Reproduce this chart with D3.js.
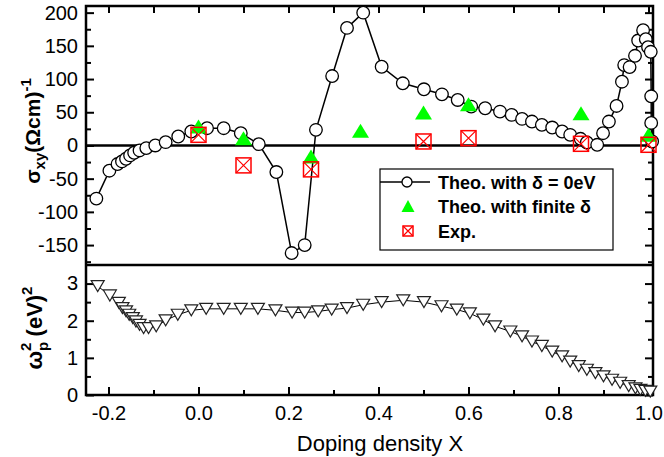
<!DOCTYPE html>
<html>
<head>
<meta charset="utf-8">
<script src="https://cdn.jsdelivr.net/npm/d3@7"></script>
<style>
  body { margin: 0; background: #fff; }
  text { font-family: "Liberation Sans", Arial, sans-serif; fill: #000; }
</style>
</head>
<body>
<svg id="chart" width="664" height="457"></svg>
<script>
// Theo. with delta = 0eV (open circles, top panel)
var sigmaX = [-0.227, -0.198, -0.18, -0.17, -0.161, -0.152, -0.143, -0.131, -0.116, -0.096,
  -0.073, -0.045, -0.016, 0.019, 0.056, 0.094, 0.134, 0.173, 0.207, 0.236,
  0.261, 0.297, 0.33, 0.366, 0.407, 0.454, 0.501, 0.541, 0.576, 0.606,
  0.637, 0.670, 0.696, 0.719, 0.741, 0.763, 0.786, 0.808, 0.826, 0.849,
  0.863, 0.886, 0.899, 0.912, 0.929, 0.941, 0.946, 0.958, 0.970, 0.977,
  0.988, 0.994, 0.999, 1.005, 1.006, 1.006, 1.008];
var sigmaY = [-80, -38, -28, -24, -20, -15, -11, -7.5, -4, 0,
  5, 13.5, 21, 26, 26, 18.5, 2, -40, -162, -150,
  23.5, 104.5, 177, 200, 118.5, 93.6, 84.6, 77, 68.5, 58.5,
  56, 51, 46, 40, 36, 31, 27, 21, 16, 10,
  4.5, 1, 18.5, 36, 59.5, 96, 121, 118, 135, 158,
  173.5, 160, 148, 141, 74, 34, 6];

// Theo. with finite delta (green triangles)
var finiteX = [0, 0.1, 0.25, 0.36, 0.5, 0.6, 0.85, 1.0];
var finiteY = [28.5, 11, -16.5, 22, 49.5, 62, 48.6, 16];

// Exp. (red crossed squares)
var expX = [0, 0.1, 0.25, 0.5, 0.6, 0.85, 1.0];
var expY = [16, -30, -36, 6, 11, 2.5, 1];

// omega_p^2 (open down triangles, bottom panel)
var omegaX = [-0.224, -0.197, -0.177, -0.169, -0.161, -0.154, -0.146, -0.139, -0.131, -0.122,
  -0.111, -0.094, -0.073, -0.046, -0.016, 0.017, 0.056, 0.094, 0.132, 0.171,
  0.208, 0.236, 0.266, 0.296, 0.330, 0.366, 0.407, 0.455, 0.501, 0.540,
  0.574, 0.603, 0.633, 0.659, 0.693, 0.719, 0.741, 0.763, 0.786, 0.808,
  0.826, 0.845, 0.863, 0.882, 0.900, 0.919, 0.937, 0.956, 0.971, 0.982,
  0.993, 1.004];
var omegaY = [2.93, 2.68, 2.48, 2.34, 2.25, 2.16, 2.07, 1.98, 1.89, 1.80,
  1.80, 1.85, 2.01, 2.16, 2.28, 2.32, 2.32, 2.32, 2.32, 2.28,
  2.22, 2.22, 2.25, 2.30, 2.34, 2.43, 2.50, 2.55, 2.50, 2.39,
  2.30, 2.20, 2.03, 1.85, 1.71, 1.58, 1.44, 1.32, 1.17, 1.04,
  0.90, 0.78, 0.68, 0.59, 0.50, 0.41, 0.33, 0.24, 0.18, 0.14,
  0.11, 0.09];

var xTicks = [-0.2, 0.0, 0.2, 0.4, 0.6, 0.8, 1.0];
var xMinor = [-0.1, 0.1, 0.3, 0.5, 0.7, 0.9];
var sigmaTicks = [-150, -100, -50, 0, 50, 100, 150, 200];
var sigmaMinor = [-175, -125, -75, -25, 25, 75, 125, 175];
var omegaTicks = [0, 1, 2, 3];
var omegaMinor = [0.5, 1.5, 2.5];
var legendLabels = ["Theo. with \u03b4 = 0eV", "Theo. with finite \u03b4", "Exp."];

var svg = d3.select("#chart");
var pLeft = 86, pRight = 653, pTop = 6, pMid = 265, pBot = 395;

var x = d3.scaleLinear().domain([-0.25, 1.01]).range([pLeft, pRight]);
var yTop = d3.scaleLinear().domain([-180, 210]).range([pMid, pTop]);
var yBot = d3.scaleLinear().domain([0, 3.5]).range([pBot, pMid]);

function styleAxis(g, size) {
  g.select(".domain").remove();
  g.selectAll("line").attr("stroke", "#000").attr("stroke-width", 2);
  g.selectAll("text").attr("font-size", size || 20).attr("fill", "#000");
}

function addAxis(axis, tx, ty) {
  var g = svg.append("g").attr("transform", "translate(" + tx + "," + ty + ")").call(axis);
  styleAxis(g);
  return g;
}

// bottom x axis
addAxis(d3.axisBottom(x).tickValues(xTicks).tickSize(-8).tickPadding(11)
  .tickFormat(d => d.toFixed(1)), 0, pBot);
addAxis(d3.axisBottom(x).tickValues(xMinor).tickSize(-5).tickFormat(""), 0, pBot);
// top x axis (mirror)
addAxis(d3.axisTop(x).tickValues(xTicks.concat(xMinor)).tickSize(-7).tickFormat(""), 0, pTop);

// top panel y axes
addAxis(d3.axisLeft(yTop).tickValues(sigmaTicks).tickSize(-8).tickPadding(8)
  .tickFormat(d => String(d)), pLeft, 0);
addAxis(d3.axisLeft(yTop).tickValues(sigmaMinor).tickSize(-5).tickFormat(""), pLeft, 0);
addAxis(d3.axisRight(yTop).tickValues(sigmaTicks).tickSize(-8).tickFormat(""), pRight, 0);
addAxis(d3.axisRight(yTop).tickValues(sigmaMinor).tickSize(-5).tickFormat(""), pRight, 0);

// bottom panel y axes
addAxis(d3.axisLeft(yBot).tickValues(omegaTicks).tickSize(-8).tickPadding(8)
  .tickFormat(d => String(d)), pLeft, 0);
addAxis(d3.axisLeft(yBot).tickValues(omegaMinor).tickSize(-5).tickFormat(""), pLeft, 0);
addAxis(d3.axisRight(yBot).tickValues(omegaTicks).tickSize(-8).tickFormat(""), pRight, 0);
addAxis(d3.axisRight(yBot).tickValues(omegaMinor).tickSize(-5).tickFormat(""), pRight, 0);

// frame, panel divider and zero line
svg.append("rect").attr("x", pLeft).attr("y", pTop)
  .attr("width", pRight - pLeft).attr("height", pBot - pTop)
  .attr("fill", "none").attr("stroke", "#000").attr("stroke-width", 2.5);
svg.append("line").attr("x1", pLeft).attr("x2", pRight).attr("y1", pMid).attr("y2", pMid)
  .attr("stroke", "#000").attr("stroke-width", 2.5);
svg.append("line").attr("x1", pLeft).attr("x2", pRight).attr("y1", yTop(0)).attr("y2", yTop(0))
  .attr("stroke", "#000").attr("stroke-width", 2.5);

// top panel: circle series
var sigmaIdx = d3.range(sigmaX.length);
svg.append("path")
  .attr("d", d3.line().x(i => x(sigmaX[i])).y(i => yTop(sigmaY[i]))(sigmaIdx))
  .attr("fill", "none").attr("stroke", "#000").attr("stroke-width", 1.5);
svg.append("g").selectAll("circle").data(sigmaIdx).join("circle")
  .attr("cx", i => x(sigmaX[i])).attr("cy", i => yTop(sigmaY[i])).attr("r", 6.3)
  .attr("fill", "#fff").attr("stroke", "#000").attr("stroke-width", 1.3);

// finite delta triangles
var upTri = "M0,-7L8.5,7L-8.5,7Z";
svg.append("g").selectAll("path").data(d3.range(finiteX.length)).join("path")
  .attr("transform", i => "translate(" + x(finiteX[i]) + "," + yTop(finiteY[i]) + ")")
  .attr("d", upTri).attr("fill", "#00ff00");

// experimental crossed squares
function crossBox(g, s) {
  g.append("rect").attr("x", -s / 2).attr("y", -s / 2).attr("width", s).attr("height", s)
    .attr("fill", "none").attr("stroke", "#ff0000").attr("stroke-width", 1.5);
  g.append("path").attr("d", "M" + (-s / 2) + "," + (-s / 2) + "L" + (s / 2) + "," + (s / 2) +
    "M" + (s / 2) + "," + (-s / 2) + "L" + (-s / 2) + "," + (s / 2))
    .attr("stroke", "#ff0000").attr("stroke-width", 1.2);
}
svg.append("g").selectAll("g").data(d3.range(expX.length)).join("g")
  .attr("transform", i => "translate(" + x(expX[i]) + "," + yTop(expY[i]) + ")")
  .each(function () { crossBox(d3.select(this), 15); });

// bottom panel: omega series
var omegaIdx = d3.range(omegaX.length);
svg.append("path")
  .attr("d", d3.line().x(i => x(omegaX[i])).y(i => yBot(omegaY[i]))(omegaIdx))
  .attr("fill", "none").attr("stroke", "#000").attr("stroke-width", 1);
svg.append("g").selectAll("path").data(omegaIdx).join("path")
  .attr("transform", i => "translate(" + x(omegaX[i]) + "," + yBot(omegaY[i]) + ")")
  .attr("d", "M-6.5,-5.5L6.5,-5.5L0,5.5Z")
  .attr("fill", "#fff").attr("stroke", "#222").attr("stroke-width", 1.2);

// legend
var leg = svg.append("g");
leg.append("rect").attr("x", 380).attr("y", 169).attr("width", 233).attr("height", 81)
  .attr("fill", "#fff").attr("stroke", "#000").attr("stroke-width", 1.2);
var rowY = [182, 206, 231];
leg.append("line").attr("x1", 380).attr("x2", 430).attr("y1", rowY[0]).attr("y2", rowY[0])
  .attr("stroke", "#000").attr("stroke-width", 1.5);
leg.append("circle").attr("cx", 407).attr("cy", rowY[0]).attr("r", 5)
  .attr("fill", "#fff").attr("stroke", "#000").attr("stroke-width", 1.3);
leg.append("path").attr("transform", "translate(408," + rowY[1] + ")")
  .attr("d", "M0,-6L6.5,6L-6.5,6Z").attr("fill", "#00ff00");
crossBox(leg.append("g").attr("transform", "translate(408," + rowY[2] + ")"), 10);
leg.selectAll("text.lab").data(legendLabels).join("text").attr("class", "lab")
  .attr("x", 438).attr("y", (d, i) => rowY[i] + 6.5)
  .attr("font-size", 18).attr("font-weight", "bold").text(d => d);

// x axis title
svg.append("text").attr("x", 380).attr("y", 451).attr("text-anchor", "middle")
  .attr("font-size", 22).text("Doping density X");

// top y title: sigma_xy (Ωcm)^-1
var t1 = svg.append("text").attr("transform", "translate(40,131) rotate(-90)")
  .attr("text-anchor", "middle").attr("font-size", 21).attr("font-weight", "bold");
t1.append("tspan").text("\u03c3");
t1.append("tspan").attr("font-size", 15).attr("dy", 5).text("xy");
t1.append("tspan").attr("dy", -5).text("(\u03a9cm)");
t1.append("tspan").attr("font-size", 15).attr("dy", -9).text("-1");

// bottom y title: omega_p^2 (eV)^2
var t2 = svg.append("text").attr("transform", "translate(42,328) rotate(-90)")
  .attr("text-anchor", "middle").attr("font-size", 22).attr("font-weight", "bold");
t2.append("tspan").text("\u03c9");
t2.append("tspan").attr("font-size", 15).attr("dy", 6).text("p");
t2.append("tspan").attr("font-size", 15).attr("dx", -9.2).attr("dy", -17).text("2");
t2.append("tspan").attr("dy", 11).text(" (eV)");
t2.append("tspan").attr("font-size", 15).attr("dy", -10).text("2");
</script>
</body>
</html>
